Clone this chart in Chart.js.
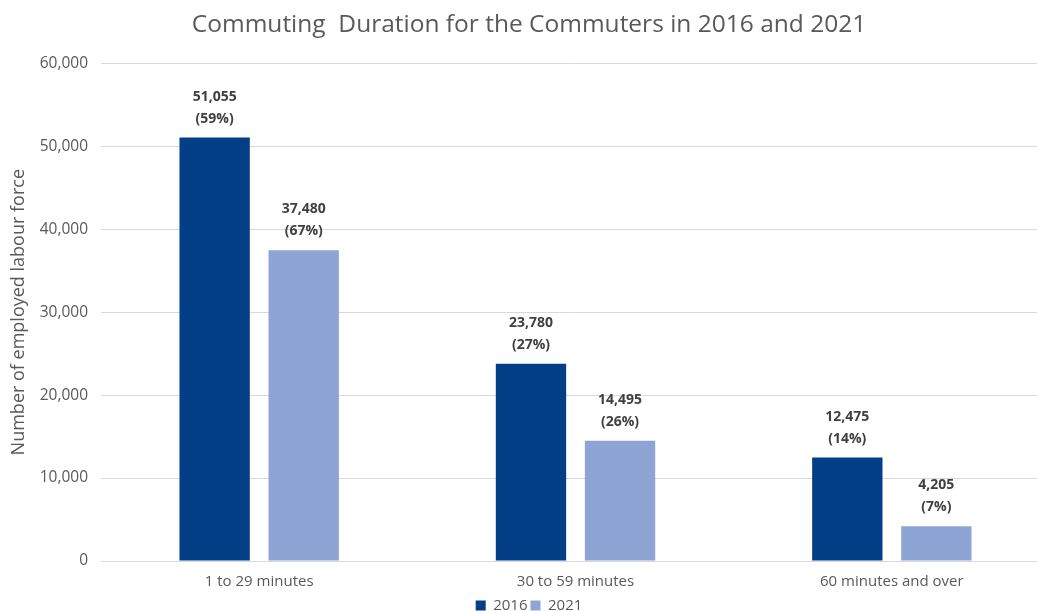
<!DOCTYPE html>
<html>
<head>
<meta charset="utf-8">
<title>Commuting Duration</title>
<script src="https://cdn.jsdelivr.net/npm/chart.js@4/dist/chart.umd.min.js"></script>
<style>
  html, body { margin: 0; padding: 0; background: #fff; overflow: hidden; }
  #wrap { width: 1050px; height: 623px; }
</style>
</head>
<body>
<div id="wrap"><canvas id="commuteChart"></canvas></div>
<script>
// commuting time bands
const durations = ['1 to 29 minutes', '30 to 59 minutes', '60 minutes and over'];

// employed labour force per band
const commuters2016 = [51055, 23780, 12475];
const commuters2021 = [37480, 14495, 4205];

// share of commuters per band (%)
const share2016 = [59, 27, 14];
const share2021 = [67, 26, 7];

const yTicks = [0, 10000, 20000, 30000, 40000, 50000, 60000];

const FONT = '"Open Sans", sans-serif';

// two-line labels (count + share) above each bar
const barLabels = {
  id: 'barLabels',
  afterDatasetsDraw(chart) {
    const ctx = chart.ctx;
    ctx.save();
    ctx.font = 'bold 14px ' + FONT;
    ctx.fillStyle = '#404040';
    ctx.textAlign = 'center';
    ctx.textBaseline = 'middle';
    chart.data.datasets.forEach((ds, i) => {
      const meta = chart.getDatasetMeta(i);
      meta.data.forEach((bar, j) => {
        ctx.fillText(ds.data[j].toLocaleString('en-US'), bar.x, bar.y - 41);
        ctx.fillText('(' + ds.shares[j] + '%)', bar.x, bar.y - 19);
      });
    });
    ctx.restore();
  }
};

const ctx = document.getElementById('commuteChart').getContext('2d');
new Chart(ctx, {
  type: 'bar',
  data: {
    labels: durations,
    datasets: [
      {
        label: '2016',
        data: commuters2016,
        shares: share2016,
        backgroundColor: '#033F87'
      },
      {
        label: '2021',
        data: commuters2021,
        shares: share2021,
        backgroundColor: '#8EA4D4'
      }
    ]
  },
  options: {
    responsive: true,
    maintainAspectRatio: false,
    animation: false,
    barPercentage: 0.79,
    categoryPercentage: 0.563,
    layout: { padding: { left: 8, right: 0, top: 0, bottom: 0 } },
    scales: {
      x: {
        grid: { display: false },
        border: { display: false },
        ticks: { color: '#595959', font: { family: FONT, size: 15 }, padding: 4 }
      },
      y: {
        min: 0,
        max: 60000,
        afterBuildTicks(scale) {
          scale.ticks = yTicks.map(v => ({ value: v }));
        },
        afterFit(scale) {
          scale.width = 93;
        },
        grid: { color: '#D9D9D9', drawTicks: false },
        border: { display: false },
        ticks: {
          color: '#595959',
          font: { family: FONT, size: 15.5 },
          padding: 13,
          callback: v => v.toLocaleString('en-US')
        },
        title: {
          display: true,
          text: 'Number of employed labour force',
          color: '#595959',
          font: { family: FONT, size: 18 },
          padding: 0
        }
      }
    },
    plugins: {
      title: {
        display: true,
        text: 'Commuting  Duration for the Commuters in 2016 and 2021',
        color: '#595959',
        font: { family: FONT, size: 24.5, weight: 'normal' },
        padding: { top: 10, bottom: 24 }
      },
      legend: {
        position: 'bottom',
        labels: {
          color: '#595959',
          font: { family: FONT, size: 15 },
          boxWidth: 10,
          boxHeight: 10,
          padding: 3
        }
      },
      tooltip: { enabled: false }
    }
  },
  plugins: [barLabels]
});
</script>
</body>
</html>
